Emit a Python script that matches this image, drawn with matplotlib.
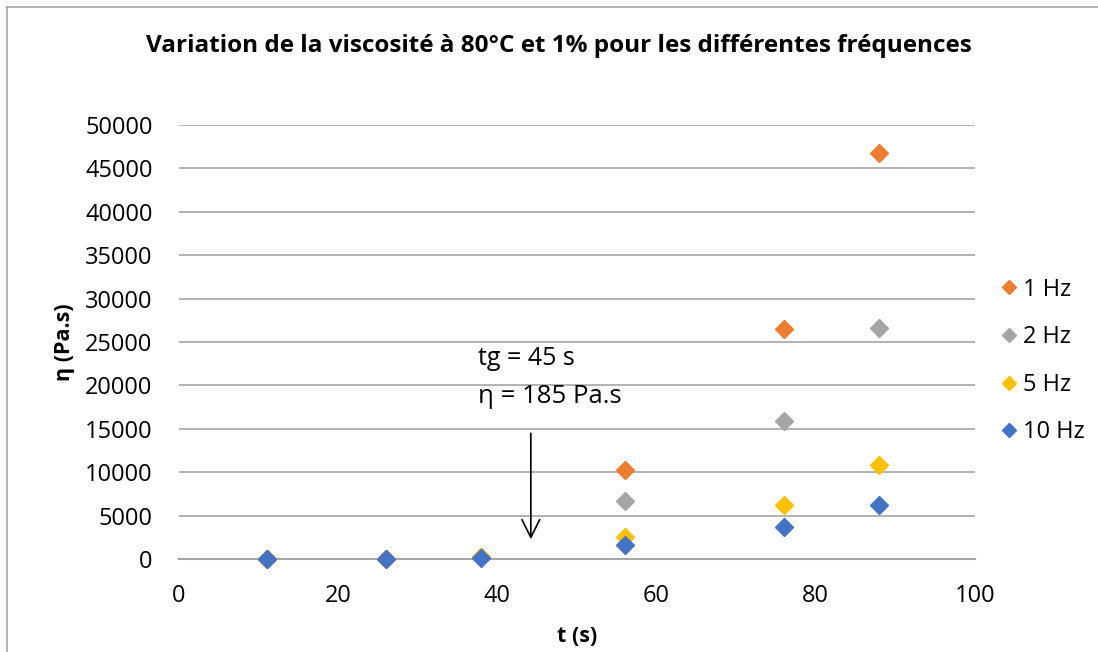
import matplotlib
matplotlib.use("Agg")
import matplotlib.pyplot as plt
from matplotlib.lines import Line2D

t = [11, 26, 38, 56, 76, 88]
eta_1hz = [20, 40, 260, 10250, 26450, 46750]
eta_2hz = [15, 30, 200, 6700, 15900, 26650]
eta_5hz = [10, 25, 190, 2570, 6220, 10830]
eta_10hz = [5, 20, 150, 1610, 3690, 6220]
series_labels = ["1 Hz", "2 Hz", "5 Hz", "10 Hz"]
series_colors = ["#ED7D31", "#A5A5A5", "#FFC000", "#4472C4"]
y_ticks = [0, 5000, 10000, 15000, 20000, 25000, 30000, 35000, 40000, 45000, 50000]
x_ticks = [0, 20, 40, 60, 80, 100]

plt.rcParams['font.family'] = ['Open Sans', 'DejaVu Sans']

fig = plt.figure(figsize=(10.98, 6.52), dpi=100)
ax = fig.add_axes([179/1098, 1-559/652, (975-179)/1098, (559-125)/652])

for vals, lab, col in zip([eta_1hz, eta_2hz, eta_5hz, eta_10hz], series_labels, series_colors):
    ax.plot(t, vals, linestyle='none', marker='D', markersize=9, color=col,
            markeredgecolor=col, label=lab, zorder=3, clip_on=False)

ax.set_xlim(0, 100)
ax.set_ylim(0, 50000)
ax.set_xticks(x_ticks)
ax.set_yticks(y_ticks)
ax.yaxis.grid(True, color='#A6A6A6', linewidth=1.2)
ax.set_axisbelow(True)
for s in ['left', 'right', 'top']:
    ax.spines[s].set_visible(False)
ax.spines['bottom'].set_color('#A6A6A6')
ax.spines['bottom'].set_linewidth(1.5)
ax.tick_params(length=0, labelsize=17)
ax.tick_params(axis='x', pad=18)
ax.tick_params(axis='y', pad=19)
ax.set_xlabel('t (s)', fontsize=15.5, fontweight='bold', va='center')
ax.set_ylabel('η (Pa.s)', fontsize=15.5, fontweight='bold', va='center')
ax.xaxis.set_label_coords(0.5, (559-636)/434)
ax.yaxis.set_label_coords((65-179)/796, 0.5)
fig.text(0.509, 1-46/652, 'Variation de la viscosité à 80°C et 1% pour les différentes fréquences',
         ha='center', va='center', fontsize=17.5, fontweight='bold')

ax.text(37.5, 23100, 'tg = 45 s', fontsize=18, va='center', ha='left')
ax.text(37.5, 18700, 'η = 185 Pa.s', fontsize=18.5, va='center', ha='left')
ax.annotate('', xy=(44.2, 1950), xytext=(44.2, 14800),
            arrowprops=dict(arrowstyle='->', color='black', lw=1.2, mutation_scale=32))

handles = [Line2D([0], [0], linestyle='none', marker='D', markersize=7.5, color=c) for c in series_colors]
fig.legend(handles, series_labels, loc='center left', bbox_to_anchor=(997/1098, 1-361/652),
           frameon=False, fontsize=17, handletextpad=0.1, labelspacing=1.0, handlelength=1.0,
           borderpad=0, borderaxespad=0)

# chart border (left and top edges visible)
fig.add_artist(Line2D([7/1098, 7/1098], [0, 1-7/652], color='#A6A6A6', lw=1.2))
fig.add_artist(Line2D([7/1098, 1], [1-7/652, 1-7/652], color='#A6A6A6', lw=1.2))

fig.savefig('out.png', dpi=100)
